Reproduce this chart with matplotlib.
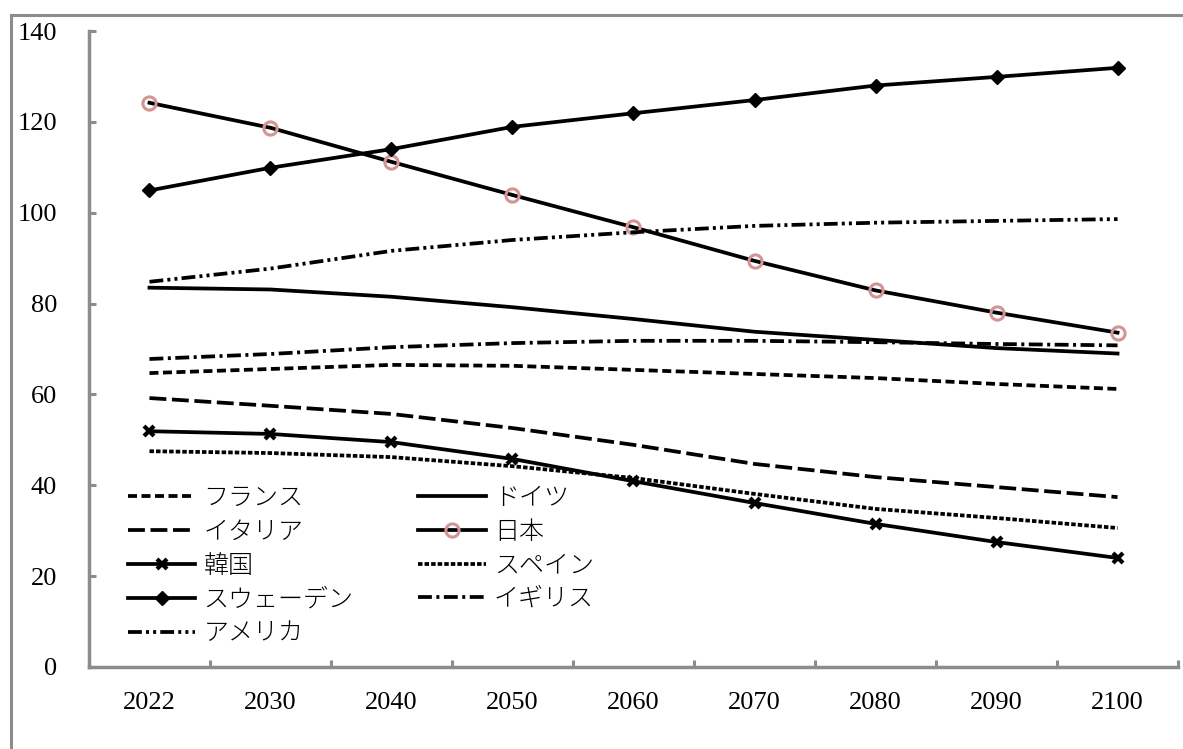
import numpy as np
import matplotlib
matplotlib.use("Agg")
import matplotlib.pyplot as plt
from matplotlib.patches import Rectangle

plt.rcParams['font.family'] = ['Liberation Serif', 'Noto Sans CJK JP']

years = ['2022', '2030', '2040', '2050', '2060', '2070', '2080', '2090', '2100']

france = [64.7, 65.6, 66.5, 66.3, 65.4, 64.5, 63.6, 62.3, 61.2]
germany = [83.5, 83.1, 81.5, 79.2, 76.6, 73.8, 72.0, 70.2, 69.0]
italy = [59.2, 57.5, 55.7, 52.6, 48.9, 44.7, 41.8, 39.6, 37.4]
japan = [124.2, 118.7, 111.2, 103.9, 96.8, 89.4, 82.9, 78.0, 73.6]
korea = [51.9, 51.3, 49.5, 45.8, 40.9, 36.1, 31.5, 27.5, 24.0]
spain = [47.5, 47.1, 46.2, 44.2, 41.6, 38.1, 34.8, 32.8, 30.6]
sweden = [104.9, 109.9, 114.0, 118.9, 121.9, 124.8, 128.0, 129.9, 131.9]
uk = [67.8, 68.9, 70.4, 71.3, 71.8, 71.8, 71.5, 71.1, 70.8]
usa = [84.8, 87.7, 91.6, 94.0, 95.7, 97.1, 97.8, 98.2, 98.6]

grey = '#8c8c8c'
lw = 2.7
x = np.arange(len(years))

fig = plt.figure(figsize=(11.83, 7.49), dpi=100)
ax = fig.add_axes([0.0752, 0.1095, 0.9206, 0.8491])

h = {}
h['フランス'], = ax.plot(x, france, color='black', lw=lw, dashes=(2.4, 1.2))
h['ドイツ'], = ax.plot(x, germany, color='black', lw=lw)
h['イタリア'], = ax.plot(x, italy, color='black', lw=lw, dashes=(4.5, 1.5))
h['日本'], = ax.plot(x, japan, color='black', lw=lw, marker='o', ms=9.5,
                    mfc='none', mec='#d29494', mew=2.2)
h['韓国'], = ax.plot(x, korea, color='black', lw=lw, marker='x', ms=7.5, mew=3)
h['スペイン'], = ax.plot(x, spain, color='black', lw=lw, dashes=(1.2, 0.55))
h['スウェーデン'], = ax.plot(x, sweden, color='black', lw=lw, marker='D', ms=7)
h['イギリス'], = ax.plot(x, uk, color='black', lw=lw, dashes=(3.7, 1.2, 0.8, 1.2))
h['アメリカ'], = ax.plot(x, usa, color='black', lw=lw,
                     dashes=(3.7, 1.1, 0.8, 1.1, 0.8, 1.1))

ax.set_xlim(-0.5, len(years) - 0.5)
ax.set_ylim(0, 140)
ax.set_yticks(np.arange(0, 141, 20))

# category labels sit between the boundary ticks
ax.set_xticks(np.arange(-0.5, len(years)), [])
ax.set_xticks(x, years, minor=True)
ax.tick_params(axis='x', which='major', direction='in', length=5, width=2.2, color=grey)
ax.tick_params(axis='x', which='minor', length=0, pad=18, labelsize=19)
ax.tick_params(axis='y', direction='in', length=5, width=2.2, color=grey, pad=23, labelsize=19)

for s in ['top', 'right']:
    ax.spines[s].set_visible(False)
for s in ['left', 'bottom']:
    ax.spines[s].set_color(grey)
    ax.spines[s].set_linewidth(2.5)

order = ['フランス', 'イタリア', '韓国', 'スウェーデン', 'アメリカ',
         'ドイツ', '日本', 'スペイン', 'イギリス']
leg = ax.legend([h[k] for k in order], order, ncol=2, loc='lower left',
                bbox_to_anchor=(0.0358, 0.034), frameon=False,
                prop={'size': 18, 'weight': 'light'},
                handlelength=2.7, handletextpad=0.32, columnspacing=2.6,
                labelspacing=0.45, borderpad=0, borderaxespad=0, numpoints=1)

fig.patches.append(Rectangle((0.0093, -0.1), 1.2, 1.08, transform=fig.transFigure,
                             fill=False, edgecolor=grey, lw=2.2))

fig.savefig('out.png', dpi=100)
